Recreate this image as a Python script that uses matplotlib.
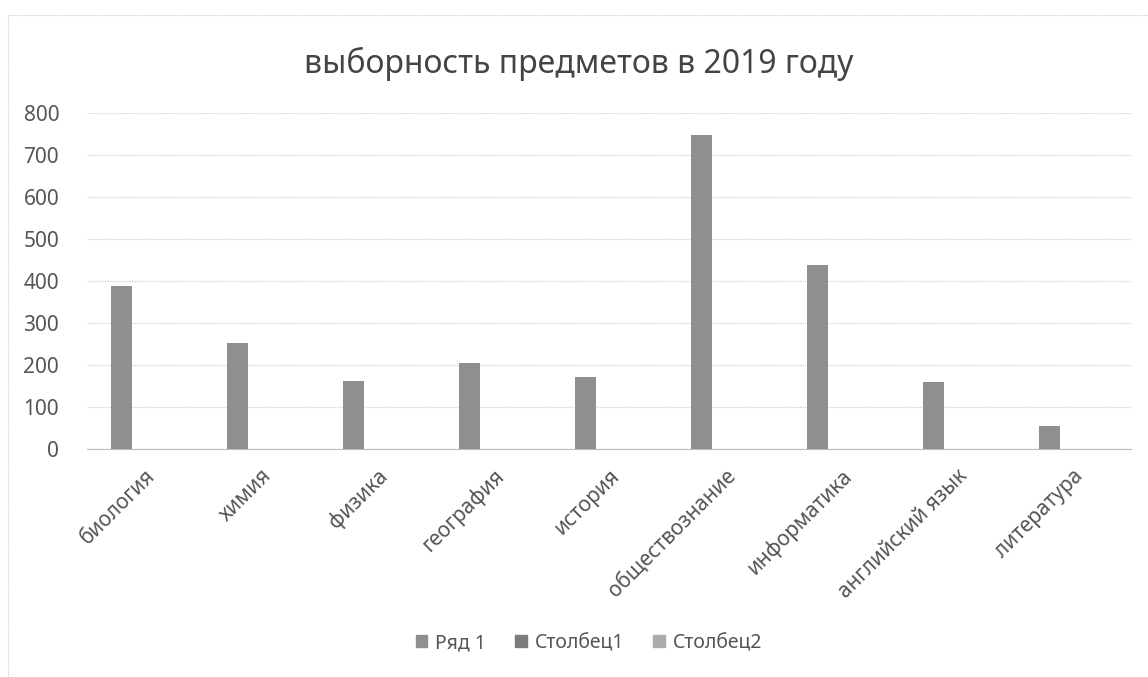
import numpy as np
import matplotlib.pyplot as plt
from matplotlib.lines import Line2D

plt.rcParams['font.family'] = ['Noto Sans', 'DejaVu Sans']

subjects = ['биология', 'химия', 'физика', 'география', 'история',
            'обществознание', 'информатика', 'английский язык', 'литература']
row1 = [388, 252, 161, 205, 170, 748, 438, 160, 55]
col1 = [0, 0, 0, 0, 0, 0, 0, 0, 0]
col2 = [0, 0, 0, 0, 0, 0, 0, 0, 0]
series_names = ['Ряд 1', 'Столбец1', 'Столбец2']
series_colors = ['#8f8f8f', '#7c7c7c', '#ababab']
y_ticks = [0, 100, 200, 300, 400, 500, 600, 700, 800]

text_col = '#555555'

fig = plt.figure(figsize=(11.48, 6.77), dpi=100)
ax = fig.add_axes([0.0758, 0.337, 0.909, 0.496])

x = np.arange(len(subjects))
w = 0.18
for k, (vals, name, c) in enumerate(zip([row1, col1, col2], series_names, series_colors)):
    ax.bar(x + (k - 1) * w - 0.02, vals, width=w, color=c, label=name, zorder=3)

ax.set_xlim(-0.5, len(subjects) - 0.5)
ax.set_ylim(0, 800)
ax.set_yticks(y_ticks)
ax.yaxis.grid(True, color='#cfcfcf', linewidth=0.9, linestyle=(0, (1, 1)))
ax.set_axisbelow(True)
for s in ['top', 'right', 'left']:
    ax.spines[s].set_visible(False)
ax.spines['bottom'].set_color('#bdbdbd')
ax.tick_params(axis='both', length=0, colors=text_col)
ax.tick_params(axis='y', pad=20, labelsize=15)
ax.set_xticks(x)
ax.set_xticklabels(subjects, rotation=45, ha='right', rotation_mode='anchor', fontsize=15)
ax.tick_params(axis='x', pad=12)

fig.text(0.504, 0.905, 'выборность предметов в 2019 году', ha='center', va='center',
         fontsize=23, color='#444444')

handles = [plt.Rectangle((0, 0), 1, 1, color=c) for c in series_colors]
fig.legend(handles, series_names, loc='center', bbox_to_anchor=(0.513, 0.05), ncol=3,
           frameon=False, fontsize=14, labelcolor=text_col, handlelength=0.6,
           handleheight=0.6, handletextpad=0.4, columnspacing=1.5)

# faint chart border left and top
fig.add_artist(Line2D([0.007, 0.007], [0.0, 0.978], color='#cccccc', lw=0.8,
                      linestyle=(0, (1, 1))))
fig.add_artist(Line2D([0.007, 1.0], [0.978, 0.978], color='#cccccc', lw=0.8,
                      linestyle=(0, (1, 1))))

fig.savefig('out.png', dpi=100)
